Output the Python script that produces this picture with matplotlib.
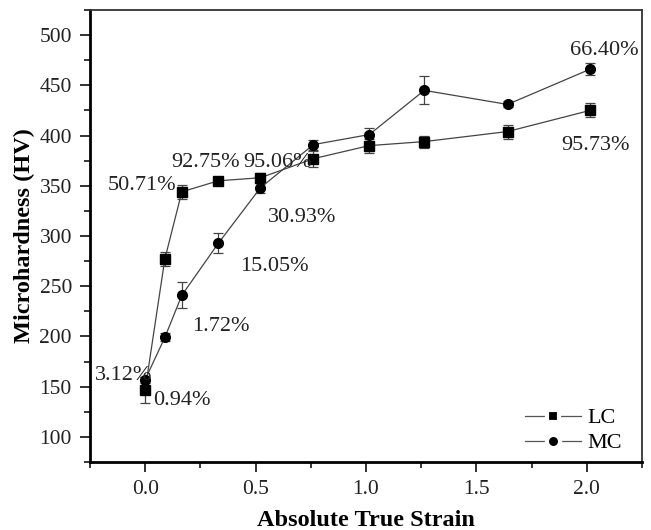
import matplotlib.pyplot as plt
from matplotlib.lines import Line2D
from matplotlib.ticker import MultipleLocator

plt.rcParams['font.family'] = ['Liberation Serif', 'DejaVu Serif']

# Strain values for each sample
strain = [0.0, 0.089, 0.166, 0.332, 0.522, 0.762, 1.015, 1.264, 1.641, 2.014]

# Microhardness (HV) and error bars
lc_hv = [147, 277, 344, 355, 358, 377, 390, 394, 404, 425]
lc_err = [13, 7, 7, 4, 5, 8, 7, 6, 7, 7]
mc_hv = [157, 199, 241, 293, 348, 391, 401, 445, 431, 466]
mc_err = [3, 4, 13, 10, 5, 5, 7, 14, 3, 6]

# Percentage annotations: (text, x, y)
lc_labels = [("3.12%", -0.226, 161), ("50.71%", -0.168, 350),
             ("92.75%", 0.12, 373), ("95.06%", 0.443, 373),
             ("95.73%", 1.885, 390)]
mc_labels = [("0.94%", 0.035, 136), ("1.72%", 0.211, 210),
             ("15.05%", 0.43, 270), ("30.93%", 0.557, 318),
             ("66.40%", 1.925, 485)]

fig = plt.figure(figsize=(6.51, 5.30), dpi=100)
ax = fig.add_axes([0.1382, 0.1283, 0.848, 0.8528])

line_style = dict(color='#444444', lw=0.9, ecolor='#444444', elinewidth=0.9,
                  capsize=3.5, capthick=0.9, markersize=7,
                  markerfacecolor='black', markeredgecolor='black')
ax.errorbar(strain, lc_hv, yerr=lc_err, marker='s', **line_style)
ax.errorbar(strain, mc_hv, yerr=mc_err, marker='o', **line_style)

for txt, x, y in lc_labels + mc_labels:
    ax.text(x, y, txt, fontsize=16, va='center', ha='left', color='#222222')

ax.set_xlim(-0.25, 2.25)
ax.set_ylim(75, 525)
ax.xaxis.set_major_locator(MultipleLocator(0.5))
ax.xaxis.set_minor_locator(MultipleLocator(0.25))
ax.yaxis.set_major_locator(MultipleLocator(50))
ax.yaxis.set_minor_locator(MultipleLocator(25))
ax.set_yticks(range(100, 501, 50))
ax.tick_params(which='major', direction='out', length=7, width=1.3,
               labelsize=15.5, pad=6, colors='#222222')
ax.tick_params(which='minor', direction='out', length=4, width=1.1)
for side in ['left', 'bottom']:
    ax.spines[side].set_linewidth(2)
for side in ['top', 'right']:
    ax.spines[side].set_linewidth(1.3)
    ax.spines[side].set_color('#333333')

ax.set_xlabel('Absolute True Strain', fontsize=17.5, fontweight='bold', labelpad=8)
ax.set_ylabel('Microhardness (HV)', fontsize=17.5, fontweight='bold', labelpad=3)

# Legend without error bars; white marker edge leaves a gap in the line
handles = [Line2D([], [], color='#555555', lw=0.9, marker='s', markersize=9,
                  markerfacecolor='black', markeredgecolor='white',
                  markeredgewidth=3),
           Line2D([], [], color='#555555', lw=0.9, marker='o', markersize=9.5,
                  markerfacecolor='black', markeredgecolor='white',
                  markeredgewidth=3)]
ax.legend(handles, ['LC', 'MC'], loc='lower right', bbox_to_anchor=(1.0, -0.025),
          frameon=False, fontsize=16, handlelength=2.5, handletextpad=0.3,
          labelspacing=0.2)

plt.savefig('out.png', dpi=100)
